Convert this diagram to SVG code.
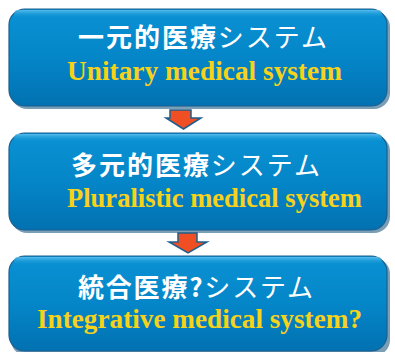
<svg xmlns="http://www.w3.org/2000/svg" width="395" height="352" viewBox="0 0 395 352">
<style>
.box{fill:url(#g);stroke:#1b5f8f;stroke-width:1.2}
.sh{fill:#0b4f7a;opacity:0.55}
.hl{fill:url(#hl)}
.jp{font-family:"Noto Sans CJK JP","Noto Sans CJK SC",sans-serif;font-size:26px;font-weight:bold;fill:#ffffff}
.kt{font-weight:normal}
.en{font-family:"Liberation Serif",serif;font-size:27px;font-weight:bold;fill:#f7d21a}
.arr{fill:#f04e23;stroke:#1f5f8b;stroke-width:1.5;stroke-linejoin:miter}
</style>
<defs>
<linearGradient id="g" x1="0" y1="0" x2="0" y2="1">
<stop offset="0" stop-color="#0a92d4"/>
<stop offset="0.5" stop-color="#0486c8"/>
<stop offset="1" stop-color="#0271b1"/>
</linearGradient>
<linearGradient id="hl" x1="0" y1="0" x2="0" y2="1">
<stop offset="0" stop-color="#5ec0ee" stop-opacity="0.9"/>
<stop offset="1" stop-color="#0a92d4" stop-opacity="0"/>
</linearGradient>
</defs>
<g id="node1">
<rect class="sh" x="11" y="11" width="379" height="98" rx="16"/>
<rect class="box" x="9" y="9" width="378" height="97" rx="16"/>
<rect class="hl" x="14" y="10" width="368" height="8" rx="4"/>
<text class="jp" x="78" y="47" textLength="249" lengthAdjust="spacing">一元的医療<tspan class="kt">システム</tspan></text>
<text class="en" x="67" y="80" textLength="275" lengthAdjust="spacingAndGlyphs">Unitary medical system</text>
</g>
<g id="node2">
<rect class="sh" x="11" y="135" width="379" height="98" rx="16"/>
<rect class="box" x="9" y="133" width="378" height="97" rx="16"/>
<rect class="hl" x="14" y="134" width="368" height="8" rx="4"/>
<text class="jp" x="71" y="175" textLength="249" lengthAdjust="spacing">多元的医療<tspan class="kt">システム</tspan></text>
<text class="en" x="67" y="207" textLength="295" lengthAdjust="spacingAndGlyphs">Pluralistic medical system</text>
</g>
<g id="node3">
<rect class="sh" x="11" y="258" width="379" height="98" rx="16"/>
<rect class="box" x="9" y="256" width="378" height="95" rx="16"/>
<rect class="hl" x="14" y="257" width="368" height="8" rx="4"/>
<text class="jp" x="78" y="297" textLength="235" lengthAdjust="spacing">統合医療?<tspan class="kt">システム</tspan></text>
<text class="en" x="37" y="328" textLength="325" lengthAdjust="spacingAndGlyphs">Integrative medical system?</text>
</g>
<g id="connectors">
<polygon class="arr" points="170,110 191,110 191,118 201,118 183.5,129 166,118 170,118"/>
<polygon class="arr" points="178,233 197,233 197,242 207,242 188,253 169,242 178,242"/>
</g>
</svg>
